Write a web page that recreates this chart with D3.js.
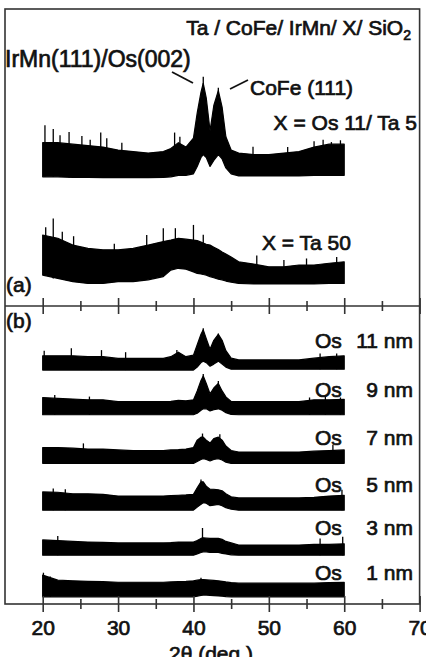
<!DOCTYPE html>
<html>
<head>
<meta charset="utf-8">
<script src="https://cdn.jsdelivr.net/npm/d3@7"></script>
<style>
  body { margin: 0; background: #fff; }
  svg text { font-family: "Liberation Sans", Arial, Helvetica, sans-serif; fill: #111; stroke: #111; stroke-width: 0.7px; paint-order: stroke; }
</style>
</head>
<body>
<div id="chart"></div>
<script>
// Data: 2theta grid (deg) and band envelopes (a.u.)
const angles = [20, 22, 24, 26, 28, 30, 32, 34, 36, 37, 38, 39, 40, 40.5, 41, 41.3, 41.7, 42.2, 42.7, 43.3, 43.8, 44.3, 45, 46, 48, 50, 52, 54, 56, 58, 60];

// panel (a)
const os11ta5High = [55, 55, 54.5, 54, 53.5, 52.5, 52, 51.5, 52, 53, 55, 53.5, 56.5, 65, 72, 75, 70, 59, 67.5, 72.5, 67, 57, 52.5, 51.5, 51, 51, 51.5, 52, 53.5, 54.5, 54.5];
const os11ta5Low = [43.5, 43.5, 43.3, 43.3, 43.2, 43.2, 43.2, 43.2, 43.3, 43.5, 44, 44, 44.5, 47, 50, 51, 50, 47, 49, 51, 49.5, 46.5, 44.5, 43.8, 43.8, 43.8, 43.8, 43.8, 44, 44, 44];
const os11ta5Spikes = [[20.3, 60.9], [21.4, 59.6], [22.3, 57.5], [23.5, 58.6], [25.2, 57.2], [26.3, 56], [27.7, 58.4], [28.5, 56.5], [30.5, 55], [37.5, 58.4], [38.2, 57], [41.3, 77.2], [43.3, 73.5], [47.9, 53.6], [52.5, 53.5], [56, 55.5], [57.2, 56], [58.3, 55.2], [59.5, 55.8]];

const ta50High = [23.9, 22.8, 20.5, 19.4, 18.9, 18.9, 19.4, 20.5, 21.7, 22.2, 22.8, 22.5, 22.2, 22, 21.5, 21.2, 20.8, 20.5, 19.8, 19, 18.2, 17.5, 16.5, 14.9, 14.1, 13.2, 13.2, 13.8, 13.8, 14.4, 14.9];
const ta50Low = [10.4, 9.3, 8.2, 7.6, 7.6, 8.2, 8.2, 8.8, 9.9, 12.1, 12.7, 12.4, 11.5, 11, 10.8, 10.6, 10.4, 9.9, 9.5, 9, 8.8, 8.4, 8, 7.6, 7.4, 7.4, 7.4, 7.4, 7.4, 7.6, 7.6];
const ta50Spikes = [[20.4, 26.5], [21.4, 29.5], [22.6, 25], [24.1, 23.5], [29.5, 21], [33.8, 23.9], [36, 26.2], [37.6, 26.2], [40, 27.3], [41.3, 24], [48.4, 17], [52, 15.5], [55, 16], [59, 16.5]];

// panel (b)
const os11High = [83.3, 83.3, 83.3, 83, 83, 82.4, 82.4, 82.4, 82.4, 83, 84.5, 83, 83.5, 87, 90.5, 92, 89, 85.5, 88.5, 90.5, 88.5, 85, 82.5, 81.9, 81.9, 81.9, 81.9, 81.9, 82.5, 83, 83.3];
const os11Low = [78.5, 78.5, 78.5, 78.5, 78.5, 78.5, 78.5, 78.5, 78.5, 78.5, 78.5, 78.5, 78.5, 79.5, 81, 81.5, 81, 79.8, 80.5, 81.5, 80.5, 79.5, 78.8, 78.8, 78.8, 78.8, 78.8, 78.8, 78.8, 78.8, 78.8];
const os11Spikes = [[20.2, 85], [23.8, 85.8], [27.8, 85.2], [31, 84.5], [37.8, 85.2], [41.3, 92.5], [43.3, 90.8], [56.8, 84.1], [59, 84.1]];

const os9High = [69.3, 69, 68.8, 68.5, 68.5, 67.9, 67.9, 67.9, 67.9, 68, 68.3, 68.2, 68.5, 71.5, 75, 76.5, 74, 70.5, 72.5, 74, 71.5, 69.5, 68, 67.9, 67.9, 67.9, 67.9, 67.9, 68.5, 68.5, 68.7];
const os9Low = [63.5, 63.5, 63.5, 63.5, 63.5, 63.5, 63.5, 63.5, 63.5, 63.5, 63.5, 63.5, 63.5, 64, 65, 65.5, 65.5, 64.8, 65.2, 65.5, 65, 64.2, 63.6, 63.5, 63.5, 63.5, 63.5, 63.5, 63.5, 63.5, 63.5];
const os9Spikes = [[21.6, 70.1], [26.2, 69.6], [41.3, 77.2], [43.3, 74.8], [55.4, 69.3], [57.5, 69.5], [59.5, 69.3]];

const os7High = [52.5, 52.5, 52.3, 52, 52, 51.7, 51.5, 51.5, 51.5, 51.7, 51.8, 52, 52.5, 55, 56, 56, 55, 54, 55.5, 56, 55, 53, 51.5, 51, 51, 51, 51, 51, 51.3, 51.5, 51.7];
const os7Low = [47.2, 47.2, 47.2, 47.2, 47.2, 47.2, 47.2, 47.2, 47.2, 47.2, 47.2, 47.2, 47.2, 47.8, 48.5, 48.8, 48.5, 48, 48.5, 48.8, 48.3, 47.6, 47.2, 47.2, 47.2, 47.2, 47.2, 47.2, 47.2, 47.2, 47.2];
const os7Spikes = [[25.4, 53.9], [41.2, 57.2], [43.5, 57], [58.5, 53.4]];

const os5High = [37.6, 37.5, 37, 37, 36.8, 36.2, 36.2, 36.2, 36.2, 36.4, 36.5, 36.6, 36.8, 39, 41, 41, 39.5, 38.5, 38.5, 38.3, 38, 37, 36, 35.6, 35.6, 35.6, 35.6, 35.6, 35.8, 36.2, 36.5];
const os5Low = [31.5, 31.5, 31.5, 31.5, 31.5, 31.5, 31.5, 31.5, 31.5, 31.5, 31.5, 31.5, 31.5, 32.5, 33.5, 34, 33.8, 33, 33.2, 33.4, 33, 32.3, 31.8, 31.5, 31.5, 31.5, 31.5, 31.5, 31.5, 31.5, 31.5];
const os5Spikes = [[21.4, 38.8], [23, 38.5], [41, 41.8], [59.7, 38.3]];

const os3High = [21.5, 21.3, 21, 20.8, 20.7, 20.5, 20.5, 20.5, 20.5, 20.6, 20.8, 20.8, 20.8, 21.3, 22, 22.2, 22.1, 22, 22, 22, 21.7, 21, 20.5, 19.8, 19.8, 19.8, 19.8, 19.8, 20, 20, 20.2];
const os3Low = [16.4, 16.4, 16.4, 16.4, 16.4, 16.4, 16.4, 16.4, 16.4, 16.4, 16.4, 16.4, 16.4, 16.8, 17.3, 17.5, 17.5, 17.3, 17.3, 17.3, 17, 16.8, 16.5, 16.4, 16.4, 16.4, 16.4, 16.4, 16.4, 16.4, 16.4];
const os3Spikes = [[22, 22.8], [41.2, 25.5], [56.8, 22], [59.8, 22.6]];

const os1High = [9.7, 8, 7.8, 7.6, 7.5, 7.3, 7.3, 7.3, 7.3, 7.4, 7.5, 7.6, 7.8, 8, 8.2, 8.2, 8.1, 8, 7.9, 7.8, 7.6, 7.4, 7.2, 7, 7, 7, 7, 7, 7, 7.2, 7.3];
const os1Low = [2.4, 2.4, 2.4, 2.4, 2.4, 2.4, 2.4, 2.4, 2.4, 2.4, 2.4, 2.4, 2.4, 2.6, 2.9, 3, 3, 2.9, 2.8, 2.7, 2.6, 2.5, 2.4, 2.4, 2.4, 2.4, 2.4, 2.4, 2.4, 2.4, 2.4];
const os1Spikes = [[20.1, 10.5], [21, 9.2], [41, 8.8]];

const thicknessLabels = ["11", "9", "7", "5", "3", "1"];
const xTicks = [20, 30, 40, 50, 60, 70];
const xMinorTicks = [25, 35, 45, 55, 65];

function draw() {
  const width = 426;
  const height = 657;
  const frame = { left: 5, right: 419.6, top: 9, mid: 306, bottom: 604 };

  const svg = d3.select("#chart")
    .append("svg")
    .attr("width", width)
    .attr("height", height);

  // Scales
  const xScale = d3.scaleLinear().domain([15, 70]).range([frame.left, frame.right]);
  const yA = d3.scaleLinear().domain([0, 100]).range([frame.mid, frame.top]);
  const yB = d3.scaleLinear().domain([0, 100]).range([frame.bottom, frame.mid]);

  const traces = [
    { y: yA, high: os11ta5High, low: os11ta5Low, spikes: os11ta5Spikes },
    { y: yA, high: ta50High, low: ta50Low, spikes: ta50Spikes },
    { y: yB, high: os11High, low: os11Low, spikes: os11Spikes },
    { y: yB, high: os9High, low: os9Low, spikes: os9Spikes },
    { y: yB, high: os7High, low: os7Low, spikes: os7Spikes },
    { y: yB, high: os5High, low: os5Low, spikes: os5Spikes },
    { y: yB, high: os3High, low: os3Low, spikes: os3Spikes },
    { y: yB, high: os1High, low: os1Low, spikes: os1Spikes }
  ];

  const bisect = d3.bisector((d) => d).center;

  traces.forEach((t) => {
    const area = d3.area()
      .x((d, i) => xScale(angles[i]))
      .y0((d, i) => t.y(t.low[i]))
      .y1((d) => t.y(d));

    svg.append("path")
      .datum(t.high)
      .attr("d", area)
      .attr("fill", "#000")
      .attr("stroke", "#000")
      .attr("stroke-width", 1.2)
      .attr("stroke-linejoin", "round");

    svg.append("g")
      .selectAll("line")
      .data(t.spikes)
      .join("line")
      .attr("x1", (d) => xScale(d[0]))
      .attr("x2", (d) => xScale(d[0]))
      .attr("y1", (d) => t.y(t.low[bisect(angles, d[0])]))
      .attr("y2", (d) => t.y(d[1]))
      .attr("stroke", "#000")
      .attr("stroke-width", 1.3);
  });

  // Frame
  const frameColor = "#333";
  svg.append("rect")
    .attr("x", frame.left)
    .attr("y", frame.top)
    .attr("width", frame.right - frame.left)
    .attr("height", frame.bottom - frame.top)
    .attr("fill", "none")
    .attr("stroke", frameColor)
    .attr("stroke-width", 1.6);

  svg.append("line")
    .attr("x1", frame.left)
    .attr("x2", frame.right)
    .attr("y1", frame.mid)
    .attr("y2", frame.mid)
    .attr("stroke", frameColor)
    .attr("stroke-width", 1.6);

  // Axes: ticks cross the line, so one axis each way
  const addTicks = (y, values, size, labels) => {
    const down = d3.axisBottom(xScale).tickValues(values).tickSize(size).tickSizeOuter(0)
      .tickPadding(8)
      .tickFormat(labels ? d3.format("d") : "");
    const up = d3.axisTop(xScale).tickValues(values).tickSize(size).tickSizeOuter(0).tickFormat("");
    [down, up].forEach((ax) => {
      const g = svg.append("g").attr("transform", `translate(0,${y})`).call(ax);
      g.select(".domain").remove();
      g.selectAll(".tick line").attr("stroke", frameColor).attr("stroke-width", 1.6);
      g.selectAll(".tick text")
        .attr("font-size", 21)
        .style("font-family", '"Liberation Sans", Arial, sans-serif')
        .attr("fill", "#111");
    });
  };
  addTicks(frame.mid, xTicks, 8, false);
  addTicks(frame.mid, xMinorTicks, 5, false);
  addTicks(frame.bottom, xTicks, 8, true);
  addTicks(frame.bottom, xMinorTicks, 5, false);

  svg.append("text")
    .attr("x", 211)
    .attr("y", 661)
    .attr("text-anchor", "middle")
    .attr("font-size", 21)
    .text("2θ (deg.)");

  // Panel (a) annotations
  const title = svg.append("text")
    .attr("x", 411)
    .attr("y", 35)
    .attr("text-anchor", "end")
    .attr("font-size", 21);
  title.append("tspan").text("Ta / CoFe/ IrMn/ X/ SiO");
  title.append("tspan").attr("font-size", 14).attr("dy", 5).text("2");

  svg.append("text")
    .attr("x", 5)
    .attr("y", 67)
    .attr("font-size", 23)
    .text("IrMn(111)/Os(002)");

  svg.append("text")
    .attr("x", 250)
    .attr("y", 95)
    .attr("font-size", 21)
    .text("CoFe (111)");

  svg.append("line")
    .attr("x1", 172).attr("y1", 72)
    .attr("x2", 193).attr("y2", 83)
    .attr("stroke", "#111").attr("stroke-width", 1.8);
  svg.append("line")
    .attr("x1", 230).attr("y1", 89)
    .attr("x2", 248).attr("y2", 80)
    .attr("stroke", "#111").attr("stroke-width", 1.8);

  svg.append("text")
    .attr("x", 417)
    .attr("y", 130)
    .attr("text-anchor", "end")
    .attr("font-size", 21)
    .text("X = Os 11/ Ta 5");

  svg.append("text")
    .attr("x", 262)
    .attr("y", 250)
    .attr("font-size", 21)
    .text("X = Ta 50");

  svg.append("text").attr("x", 6).attr("y", 292).attr("font-size", 21).text("(a)");
  svg.append("text").attr("x", 6).attr("y", 328).attr("font-size", 21).text("(b)");

  // Panel (b) labels
  const labelY = [348, 396.5, 445, 491.5, 535, 580];
  thicknessLabels.forEach((n, i) => {
    svg.append("text")
      .attr("x", 315)
      .attr("y", labelY[i])
      .attr("font-size", 21)
      .text("Os");
    svg.append("text")
      .attr("x", 413)
      .attr("y", labelY[i])
      .attr("text-anchor", "end")
      .attr("font-size", 21)
      .text(`${n} nm`);
  });
}

draw();
</script>
</body>
</html>
